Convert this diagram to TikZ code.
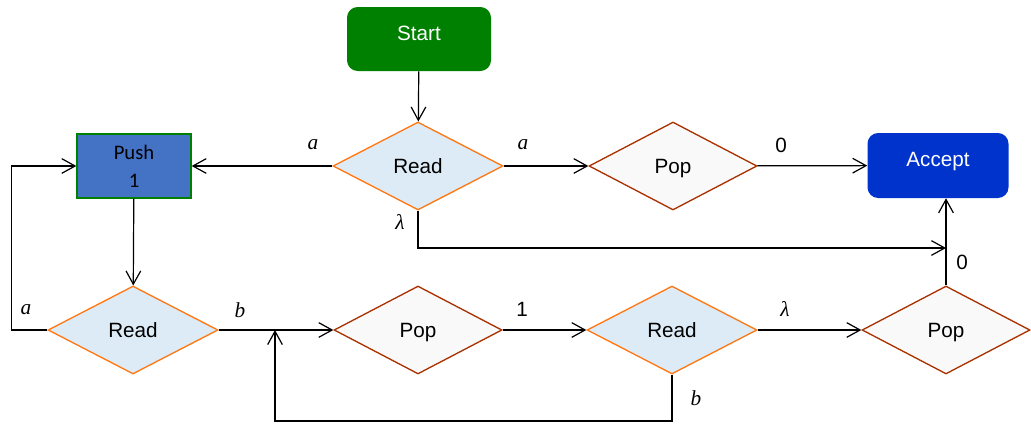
\documentclass[tikz,border=0pt]{standalone}
\usepackage{fontspec}
\setmainfont{Liberation Sans}
\newfontfamily\serifit{Liberation Serif}
\newfontfamily\calib{Carlito}
\usetikzlibrary{shapes.geometric,arrows.meta,positioning,calc}
\definecolor{startgreen}{RGB}{0,128,0}
\definecolor{acceptblue}{RGB}{0,51,204}
\definecolor{pushblue}{RGB}{68,114,196}
\definecolor{readfill}{RGB}{221,235,247}
\definecolor{readline}{RGB}{255,120,20}
\definecolor{popfill}{RGB}{249,249,249}
\definecolor{popline}{RGB}{170,50,0}

\tikzset{
  txt/.style={font=\fontsize{15.5}{20}\selectfont},
  endbox/.style={txt, rectangle, rounded corners=8pt, text=white, inner sep=0pt,
    text height=11pt, text depth=9pt},
  readbox/.style={txt, diamond, draw=readline, fill=readfill, line width=1pt,
    inner sep=0pt, minimum width=127.5pt, minimum height=66pt},
  popbox/.style={txt, diamond, draw=popline, fill=popfill, line width=1pt,
    inner sep=0pt, minimum width=126pt, minimum height=66pt,
    text height=11pt, text depth=0pt},
  pushbox/.style={rectangle, draw=startgreen, fill=pushblue, line width=1pt,
    inner sep=0pt, minimum width=85.5pt, minimum height=48pt, align=center,
    font=\calib\fontsize{15.5}{21}\selectfont},
  conn/.style={-{Straight Barb[length=10pt,width=11pt]}, line width=0.9pt},
  lbl/.style={inner sep=0pt, font=\serifit\itshape\fontsize{16}{18}\selectfont},
  num/.style={inner sep=0pt, txt}
}

\begin{document}
\begin{tikzpicture}[x=0.75pt,y=-0.75pt]
    \useasboundingbox (0,0) rectangle (1031,425);

    % Knoten
    \node[endbox, fill=startgreen, minimum width=108pt, minimum height=48pt] (start) at (419,39) {Start};
    \node[readbox] (read1) at (418,166) {Read};
    \node[pushbox] (push) at (134,166) {Push\\1};
    \node[popbox] (pop1) at (673,166) {Pop};
    \node[endbox, fill=acceptblue, minimum width=105.75pt, minimum height=48.75pt] (accept) at (938,165.5) {Accept};
    \node[readbox] (read2) at (133,330) {Read};
    \node[popbox] (pop2) at (418,330) {Pop};
    \node[readbox] (read3) at (672,330) {Read};
    \node[popbox] (pop3) at (946,330) {Pop};

    % Hilfspunkte
    \coordinate (lamjoin) at (946,248);
    \coordinate (loopcorner) at (275,421);
    \coordinate (loopend) at (275,330);

    % Verbindungen
    \draw[conn] (start) -- (read1);
    \draw[conn] (read1) -- (push);
    \draw[conn] (read1) -- (pop1);
    \draw[conn] (pop1) -- (accept);
    \draw[conn] (read1.south) |- (lamjoin);
    \draw[conn] (pop3.north) -- (pop3.north |- accept.south);
    \draw[conn] (push) -- (read2);
    \draw[conn] (read2.west) -- ++(-36,0) |- (push.west);
    \draw[conn] (read2) -- (pop2);
    \draw[conn] (pop2) -- (read3);
    \draw[conn] (read3) -- (pop3);
    \draw[conn] (read3.south) |- (loopcorner) -- (loopend);

    % Beschriftungen
    \node[lbl] (la1) at (313,145) {a};
    \node[lbl] (la2) at (523,145) {a};
    \node[num] (lz1) at (781,145) {0};
    \node[lbl] (ll1) at (400,222) {λ};
    \node[num] (lz2) at (962,262) {0};
    \node[lbl] (la3) at (26,310) {a};
    \node[lbl] (lb1) at (240,310) {b};
    \node[num] (lo1) at (522,309) {1};
    \node[lbl] (ll2) at (785,309) {λ};
    \node[lbl] (lb2) at (696,398) {b};
\end{tikzpicture}
\end{document}
